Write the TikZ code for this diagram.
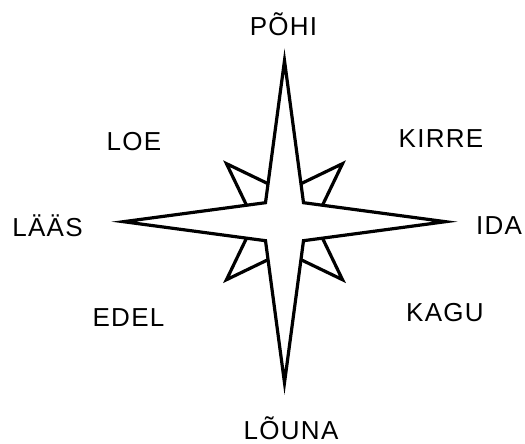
\documentclass[tikz,border=0pt]{standalone}
\usepackage{fontspec}
\setmainfont{Liberation Sans}[LetterSpace=5]
\usepackage{tikz}
\usetikzlibrary{positioning}

\begin{document}
\begin{tikzpicture}[
    x=1pt, y=1pt,
    rose/.style={draw=black, fill=white, line width=3.2pt, line join=miter},
    lbl/.style={font=\fontsize{26}{30}\selectfont, inner sep=0pt, anchor=base}
]
\useasboundingbox (0,0) rectangle (525,444);

% Compass rose
\begin{scope}[shift={(284.5,222.3)}]
  % short diagonal points
  \draw[rose] (16.5,38) -- (58,58) -- (38,16.5);
  \draw[rose] (-16.5,38) -- (-58,58) -- (-38,16.5);
  \draw[rose] (16.5,-38) -- (58,-58) -- (38,-16.5);
  \draw[rose] (-16.5,-38) -- (-58,-58) -- (-38,-16.5);
  % long main points
  \draw[rose] (0,161) -- (19,19) -- (161,0) -- (19,-19) -- (0,-161)
    -- (-19,-19) -- (-161,0) -- (-19,19) -- cycle;
\end{scope}

% Directions
\node[lbl] (n)  at (283.5,408) {PÕHI};
\node[lbl] (ne) at (441,296)   {KIRRE};
\node[lbl] (e)  at (499,209)   {IDA};
\node[lbl] (se) at (445,122)   {KAGU};
\node[lbl] (s)  at (291,4)     {LÕUNA};
\node[lbl] (sw) at (128.5,117) {EDEL};
\node[lbl] (w)  at (47.5,207)  {LÄÄS};
\node[lbl] (nw) at (134,293)   {LOE};
\end{tikzpicture}
\end{document}
